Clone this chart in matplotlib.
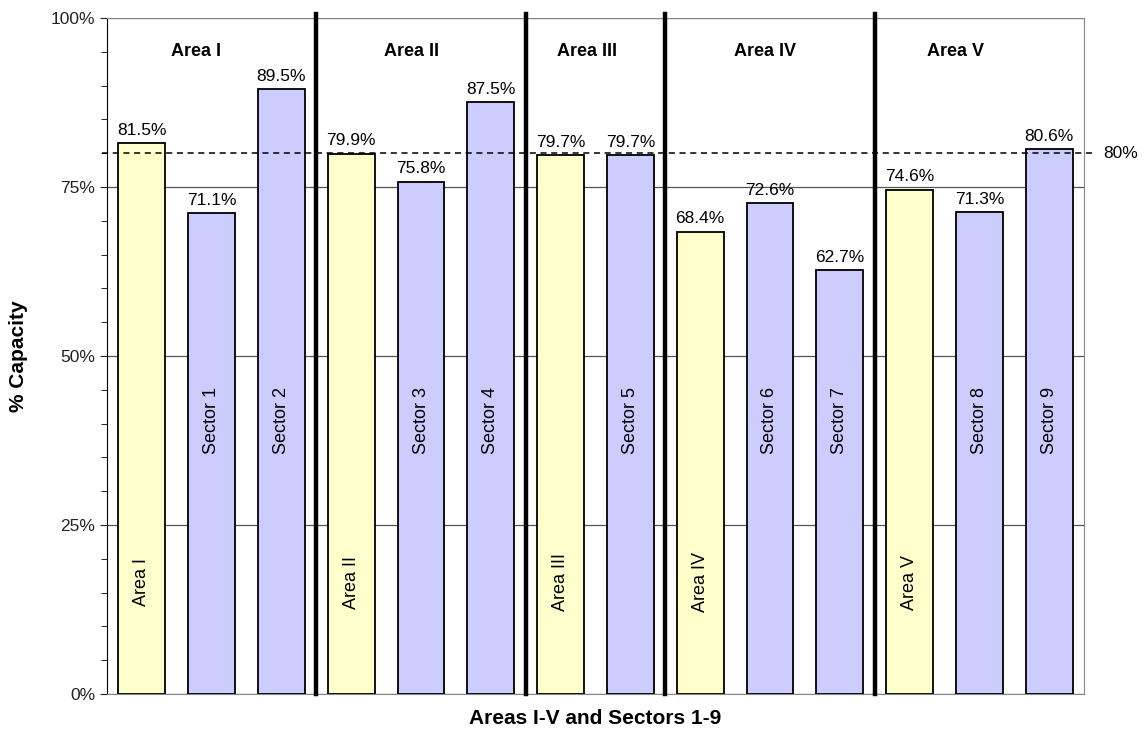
import matplotlib
matplotlib.use("Agg")
import matplotlib.pyplot as plt
from matplotlib.ticker import MultipleLocator, FuncFormatter

plt.rcParams['font.family'] = ['Liberation Sans', 'DejaVu Sans']

categories = ["Area I", "Sector 1", "Sector 2", "Area II", "Sector 3", "Sector 4",
              "Area III", "Sector 5", "Area IV", "Sector 6", "Sector 7",
              "Area V", "Sector 8", "Sector 9"]
values = [81.5, 71.1, 89.5, 79.9, 75.8, 87.5, 79.7, 79.7, 68.4, 72.6, 62.7, 74.6, 71.3, 80.6]
is_area = [True, False, False, True, False, False, True, False, True, False, False, True, False, False]
group_titles = ["Area I", "Area II", "Area III", "Area IV", "Area V"]
group_title_x = [0.78, 3.87, 6.38, 8.93, 11.66]
separators = [2.5, 5.5, 7.5, 10.5]
target = 80

fig = plt.figure(figsize=(11.44, 7.4), dpi=100)
ax = fig.add_axes([0.0935, 0.0622, 0.8541, 0.9135])

x = list(range(len(values)))
colors = ['#FFFFCC' if a else '#CCCCFF' for a in is_area]
ax.bar(x, values, width=0.67, color=colors, edgecolor='black', linewidth=1.3, zorder=3)

ax.set_xlim(-0.5, len(values) - 0.5)
ax.set_ylim(0, 100)
ax.yaxis.set_major_locator(MultipleLocator(25))
ax.yaxis.set_minor_locator(MultipleLocator(5))
ax.yaxis.set_major_formatter(FuncFormatter(lambda v, p: f"{v:.0f}%"))
ax.set_xticks([])
ax.grid(axis='y', which='major', color='#555555', linewidth=0.9, zorder=0)
ax.tick_params(axis='y', which='major', length=5, labelsize=12.5, colors='#222222')
ax.tick_params(axis='y', which='minor', length=4)
for s in ['top', 'right', 'bottom']:
    ax.spines[s].set_color('#888888')
ax.spines['left'].set_color('black')

for xi, v in zip(x, values):
    ax.text(xi, v + 0.8, f"{v:.1f}%", ha='center', va='bottom', fontsize=12.5, zorder=5)

for xi, name, a in zip(x, categories, is_area):
    yv = 16.5 if a else 40.5
    ax.text(xi, yv, name, rotation=90, ha='center', va='center', fontsize=13, zorder=5)

for sx in separators:
    ax.plot([sx, sx], [0, 100.6], color='black', linewidth=3.2, zorder=4, clip_on=False)

for t, tx in zip(group_titles, group_title_x):
    ax.text(tx, 95, t, ha='center', va='center', fontsize=13, fontweight='bold')

ax.plot([-0.57, 13.65], [target, target], color='black', linestyle=(0, (4, 3)),
        linewidth=1.1, zorder=4, clip_on=False)
ax.text(13.78, target, f"{target}%", ha='left', va='center', fontsize=12.5)

ax.set_ylabel("% Capacity", fontsize=15, fontweight='bold', labelpad=16)
ax.set_xlabel("Areas I-V and Sectors 1-9", fontsize=15, fontweight='bold', labelpad=11)

fig.savefig("out.png", dpi=100)
